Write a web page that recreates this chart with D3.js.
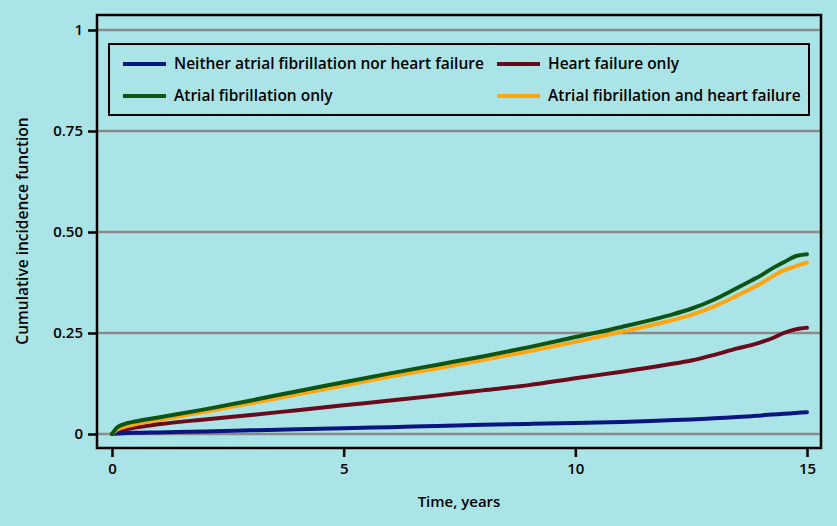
<!DOCTYPE html>
<html>
<head>
<meta charset="utf-8">
<script src="https://cdn.jsdelivr.net/npm/d3@7"></script>
<style>
  body { margin: 0; background: #abe4e6; }
  svg { display: block; font-family: "Open Sans", sans-serif; font-weight: 600; }
</style>
</head>
<body>
<div id="chart"></div>
<script>
const times      = [0, 0.1, 0.25, 0.5, 1, 2, 3, 4, 5, 6, 7, 8, 9, 10, 11, 12, 12.5, 13, 13.5, 13.8, 14, 14.25, 14.5, 14.75, 15];
const neither    = [0, 0.001, 0.002, 0.003, 0.004, 0.006, 0.009, 0.012, 0.014, 0.017, 0.020, 0.023, 0.025, 0.027, 0.030, 0.034, 0.036, 0.039, 0.042, 0.044, 0.046, 0.048, 0.050, 0.052, 0.054];
const hfOnly     = [0, 0.006, 0.010, 0.016, 0.024, 0.036, 0.047, 0.059, 0.071, 0.083, 0.095, 0.108, 0.121, 0.138, 0.154, 0.172, 0.182, 0.196, 0.212, 0.220, 0.227, 0.237, 0.250, 0.259, 0.263];
const afOnly     = [0, 0.015, 0.024, 0.031, 0.041, 0.061, 0.083, 0.106, 0.128, 0.150, 0.171, 0.192, 0.215, 0.240, 0.265, 0.293, 0.310, 0.333, 0.362, 0.380, 0.392, 0.410, 0.425, 0.440, 0.445];
const afAndHf    = [0, 0.010, 0.017, 0.024, 0.035, 0.055, 0.076, 0.098, 0.120, 0.142, 0.162, 0.183, 0.205, 0.228, 0.253, 0.279, 0.295, 0.316, 0.343, 0.360, 0.372, 0.390, 0.405, 0.415, 0.424];

const seriesNames  = ["Neither atrial fibrillation nor heart failure", "Heart failure only", "Atrial fibrillation only", "Atrial fibrillation and heart failure"];
const seriesColors = ["#0a1580", "#6a0a1c", "#0c5514", "#ffa510"];
const seriesValues = [neither, hfOnly, afOnly, afAndHf];
const drawOrder    = [1, 0, 3, 2];
const legendOrder  = [0, 1, 2, 3];

const xTicks = [0, 5, 10, 15];
const yTicks = [0, 0.25, 0.5, 0.75, 1];
const yTickLabels = ["0", "0.25", "0.50", "0.75", "1"];

const width = 837, height = 526;
const frame = {left: 97, top: 15, right: 821, bottom: 448};

const svg = d3.select("#chart").append("svg")
    .attr("width", width)
    .attr("height", height);

const x = d3.scaleLinear().domain([0, 15]).range([112, 807]);
const y = d3.scaleLinear().domain([0, 1]).range([434, 30]);

// gridlines
svg.append("g")
    .selectAll("line")
    .data(yTicks)
    .join("line")
    .attr("x1", frame.left).attr("x2", frame.right)
    .attr("y1", d => y(d)).attr("y2", d => y(d))
    .style("stroke", "#8a8a8a")
    .style("stroke-width", 2.5);

// curves
const line = d3.line()
    .x((d, i) => x(times[i]))
    .y(d => y(d))
    .curve(d3.curveMonotoneX);

svg.append("g")
    .selectAll("path")
    .data(drawOrder)
    .join("path")
    .attr("d", k => line(seriesValues[k]))
    .style("fill", "none")
    .style("stroke", k => seriesColors[k])
    .style("stroke-width", 4)
    .style("stroke-linecap", "round");

// frame
svg.append("rect")
    .attr("x", frame.left).attr("y", frame.top)
    .attr("width", frame.right - frame.left)
    .attr("height", frame.bottom - frame.top)
    .style("fill", "none")
    .style("stroke", "#000")
    .style("stroke-width", 2.5);

// axes
const yAxis = svg.append("g")
    .attr("transform", `translate(${frame.left},0)`)
    .call(d3.axisLeft(y).tickValues(yTicks).tickSize(9).tickPadding(5)
        .tickFormat((d, i) => yTickLabels[i]));

const xAxis = svg.append("g")
    .attr("transform", `translate(0,${frame.bottom})`)
    .call(d3.axisBottom(x).tickValues(xTicks).tickSize(9).tickPadding(6));

[xAxis, yAxis].forEach(a => {
    a.select(".domain").remove();
    a.selectAll("line").style("stroke", "#000").style("stroke-width", 2.5);
    a.selectAll("text")
        .style("font-family", "Open Sans, sans-serif")
        .style("font-weight", 600)
        .style("font-size", "15px")
        .style("fill", "#000");
});

svg.append("text")
    .attr("x", 459).attr("y", 507)
    .attr("text-anchor", "middle")
    .style("font-size", "15px")
    .text("Time, years");

svg.append("text")
    .attr("transform", "translate(28,231) rotate(-90)")
    .attr("text-anchor", "middle")
    .style("font-size", "15.5px")
    .text("Cumulative incidence function");

// legend
const legend = svg.append("g");
legend.append("rect")
    .attr("x", 109).attr("y", 44)
    .attr("width", 700).attr("height", 71)
    .style("fill", "#abe4e6")
    .style("stroke", "#000")
    .style("stroke-width", 2);

const item = legend.selectAll("g.item")
    .data(legendOrder)
    .join("g")
    .attr("class", "item")
    .attr("transform", (k, i) => `translate(${i % 2 ? 497 : 123},${i < 2 ? 64 : 96})`);

item.append("line")
    .attr("x1", 0).attr("x2", 43)
    .style("stroke", k => seriesColors[k])
    .style("stroke-width", 4);

item.append("text")
    .attr("x", 51).attr("dy", "0.35em")
    .style("font-size", "15.5px")
    .text(k => seriesNames[k]);
</script>
</body>
</html>
